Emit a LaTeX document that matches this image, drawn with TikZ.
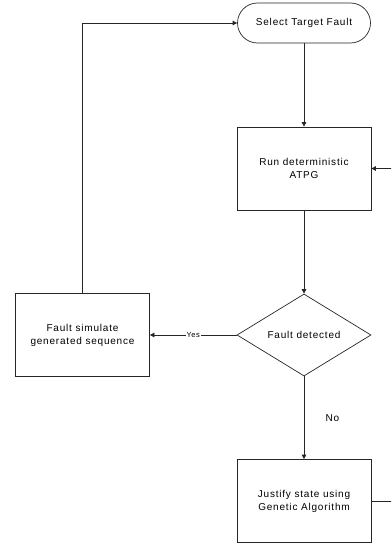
\documentclass[tikz,border=0pt]{standalone}
\usepackage{fontspec}
\setmainfont{Liberation Sans}[LetterSpace=8]
\usetikzlibrary{positioning,arrows.meta,shapes.geometric}

\tikzset{
    flowline/.style={draw=black!85, line width=0.7pt},
    flowarrow/.style={flowline, -{Triangle[width=4.5pt,length=4.5pt]}},
    procbox/.style={draw=black!85, line width=0.7pt, minimum width=134pt, minimum height=83pt, align=center, inner sep=0pt},
    termbox/.style={draw=black!85, line width=0.7pt, rounded corners=20pt, minimum width=133pt, minimum height=40pt, inner sep=0pt},
    decbox/.style={draw=black!85, line width=0.7pt, diamond, aspect=1.63, minimum width=134pt, minimum height=82pt, inner sep=0pt},
}

\begin{document}
\begin{tikzpicture}[x=1pt, y=-1pt, font=\fontsize{10}{13}\selectfont]
    \clip (0,0) rectangle (391,543);

    % flow boxes
    \node[termbox] (target) at (304,23) {Select Target Fault};
    \node[procbox] (atpg) at (304,168.5) {Run deterministic\\ATPG};
    \node[decbox] (detected) at (304,335) {Fault detected};
    \node[procbox] (faultsim) at (82.5,335) {Fault simulate\\generated sequence};
    \node[procbox] (justify) at (304,501) {Justify state using\\Genetic Algorithm};

    % connectors
    \draw[flowarrow] (target) -- (atpg);
    \draw[flowarrow] (atpg) -- (detected);
    \draw[flowarrow] (detected.west) -- node[fill=white, inner sep=1pt, font=\fontsize{7.5}{9}\selectfont] {Yes} (faultsim.east);
    \draw[flowarrow] (detected.south) -- node[right=18pt] {No} (justify.north);
    \draw[flowarrow] (faultsim.north) |- (target.west);
    \coordinate (backout) at (420,501);
    \draw[flowarrow] (justify.east) -- (backout) |- (atpg.east);
\end{tikzpicture}
\end{document}
